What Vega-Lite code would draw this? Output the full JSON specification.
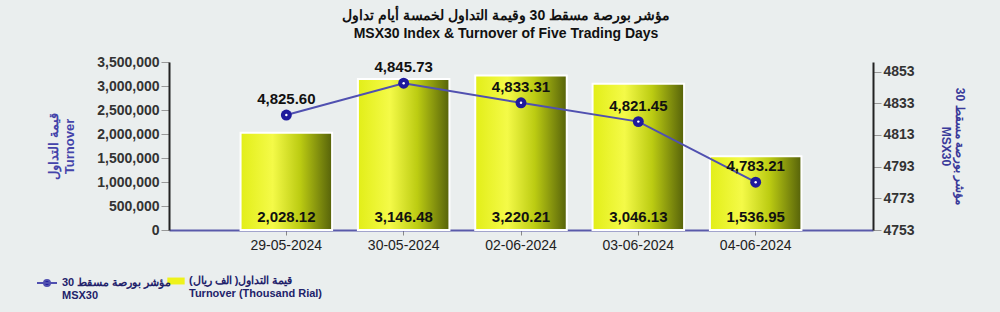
{
  "$schema": "https://vega.github.io/schema/vega-lite/v6.json",
  "width": 704,
  "height": 168,
  "autosize": {"type": "none"},
  "padding": {"left": 169, "top": 62, "right": 127, "bottom": 82},
  "background": "#eaeeee",
  "config": {
    "view": {"stroke": null},
    "font": "Liberation Sans"
  },
  "title": {
    "text": ["مؤشر بورصة مسقط 30 وقيمة التداول لخمسة أيام تداول", "MSX30 Index & Turnover of Five Trading Days"],
    "anchor": "middle",
    "dx": -15,
    "fontSize": 14,
    "fontWeight": "bold",
    "color": "#111111",
    "lineHeight": 18,
    "offset": 14
  },
  "data": {
    "values": [
      {"date": "29-05-2024", "turnover": 2028.12, "index": 4825.60},
      {"date": "30-05-2024", "turnover": 3146.48, "index": 4845.73},
      {"date": "02-06-2024", "turnover": 3220.21, "index": 4833.31},
      {"date": "03-06-2024", "turnover": 3046.13, "index": 4821.45},
      {"date": "04-06-2024", "turnover": 1536.95, "index": 4783.21}
    ]
  },
  "encoding": {
    "x": {
      "field": "date",
      "type": "nominal",
      "sort": null,
      "scale": {"paddingInner": 0.22, "paddingOuter": 0.61},
      "axis": {
        "title": null,
        "labelAngle": 0,
        "labelFontSize": 14,
        "labelColor": "#222222",
        "labelPadding": 3,
        "domainColor": "#5a5aaa",
        "domainWidth": 2,
        "tickColor": "#888888",
        "tickSize": 5
      }
    }
  },
  "layer": [
    {
      "encoding": {
        "y": {
          "field": "turnover",
          "type": "quantitative",
          "scale": {"domain": [0, 3500], "nice": false},
          "axis": {
            "orient": "left",
            "values": [0, 500, 1000, 1500, 2000, 2500, 3000, 3500],
            "labelExpr": "format(datum.value*1000, ',')",
            "labelFontSize": 14,
            "labelFontWeight": "bold",
            "labelColor": "#333333",
            "tickSize": 8,
            "tickColor": "#999999",
            "domainColor": "#222222",
            "domainWidth": 2,
            "grid": false,
            "title": ["قيمة التداول", "Turnover"],
            "titleColor": "#4444aa",
            "titleFontSize": 13,
            "titleFontWeight": "bold",
            "titlePadding": 20,
            "titleLineHeight": 16
          }
        }
      },
      "layer": [
        {
          "mark": {
            "type": "bar",
            "stroke": "#ffffff",
            "strokeWidth": 2,
            "color": {
              "gradient": "linear",
              "x1": 0, "y1": 0, "x2": 1, "y2": 0,
              "stops": [
                {"offset": 0, "color": "#e2ee18"},
                {"offset": 0.35, "color": "#f4fa48"},
                {"offset": 0.65, "color": "#bccc12"},
                {"offset": 1, "color": "#56620a"}
              ]
            }
          }
        },
        {
          "mark": {"type": "bar", "opacity": 0},
          "encoding": {
            "fill": {
              "datum": "Turnover",
              "scale": {"range": ["#eef21a"]},
              "legend": {
                "orient": "none",
                "legendX": -2,
                "legendY": 210,
                "title": null,
                "symbolOpacity": 1,
                "symbolType": "M-1,-0.4H1V0.4H-1Z",
                "symbolSize": 300,
                "symbolStrokeWidth": 0,
                "labelExpr": "['قيمة التداول( الف ريال)', 'Turnover (Thousand Rial)']",
                "labelFontSize": 11,
                "labelFontWeight": "bold",
                "labelColor": "#22226a",
                "labelLimit": 300
              }
            }
          }
        },
        {
          "mark": {"type": "text", "fontSize": 15, "fontWeight": "bold", "color": "#111111", "dy": -13},
          "encoding": {
            "y": {"datum": 0},
            "text": {"field": "turnover", "type": "quantitative", "format": ",.2f"}
          }
        }
      ]
    },
    {
      "encoding": {
        "y": {
          "field": "index",
          "type": "quantitative",
          "scale": {"domain": [4753, 4859.1], "nice": false, "zero": false},
          "axis": {
            "orient": "right",
            "values": [4753, 4773, 4793, 4813, 4833, 4853],
            "format": "d",
            "labelFontSize": 14,
            "labelFontWeight": "bold",
            "labelColor": "#333333",
            "tickSize": 8,
            "tickColor": "#999999",
            "domainColor": "#222222",
            "domainWidth": 2,
            "grid": false,
            "title": ["مؤشر بورصة مسقط 30", "MSX30"],
            "titleAngle": 90,
            "titleColor": "#3a3a9a",
            "titleFontSize": 12,
            "titleFontWeight": "bold",
            "titlePadding": 24,
            "titleLineHeight": 14
          }
        }
      },
      "layer": [
        {
          "mark": {"type": "line", "strokeWidth": 2},
          "encoding": {
            "stroke": {
              "datum": "MSX30",
              "scale": {"range": ["#5050b0"]},
              "legend": {
                "orient": "none",
                "legendX": -133,
                "legendY": 210,
                "title": null,
                "symbolType": "M-1,0H1M-0.3,0A0.3,0.3,0,1,0,0.3,0A0.3,0.3,0,1,0,-0.3,0Z",
                "symbolSize": 400,
                "symbolFillColor": "#1f1a9c",
                "symbolStrokeWidth": 2,
                "labelExpr": "['مؤشر بورصة مسقط 30', 'MSX30']",
                "labelFontSize": 11,
                "labelFontWeight": "bold",
                "labelColor": "#22226a",
                "labelLimit": 300
              }
            }
          }
        },
        {
          "mark": {"type": "point", "filled": true, "color": "#1f1a9c", "size": 120, "opacity": 1}
        },
        {
          "mark": {"type": "point", "filled": true, "color": "#ffffff", "size": 6, "opacity": 1}
        },
        {
          "mark": {"type": "text", "fontSize": 15, "fontWeight": "bold", "color": "#111111", "dy": -16},
          "encoding": {
            "text": {"field": "index", "type": "quantitative", "format": ",.2f"}
          }
        }
      ]
    }
  ],
  "resolve": {"scale": {"y": "independent"}}
}
